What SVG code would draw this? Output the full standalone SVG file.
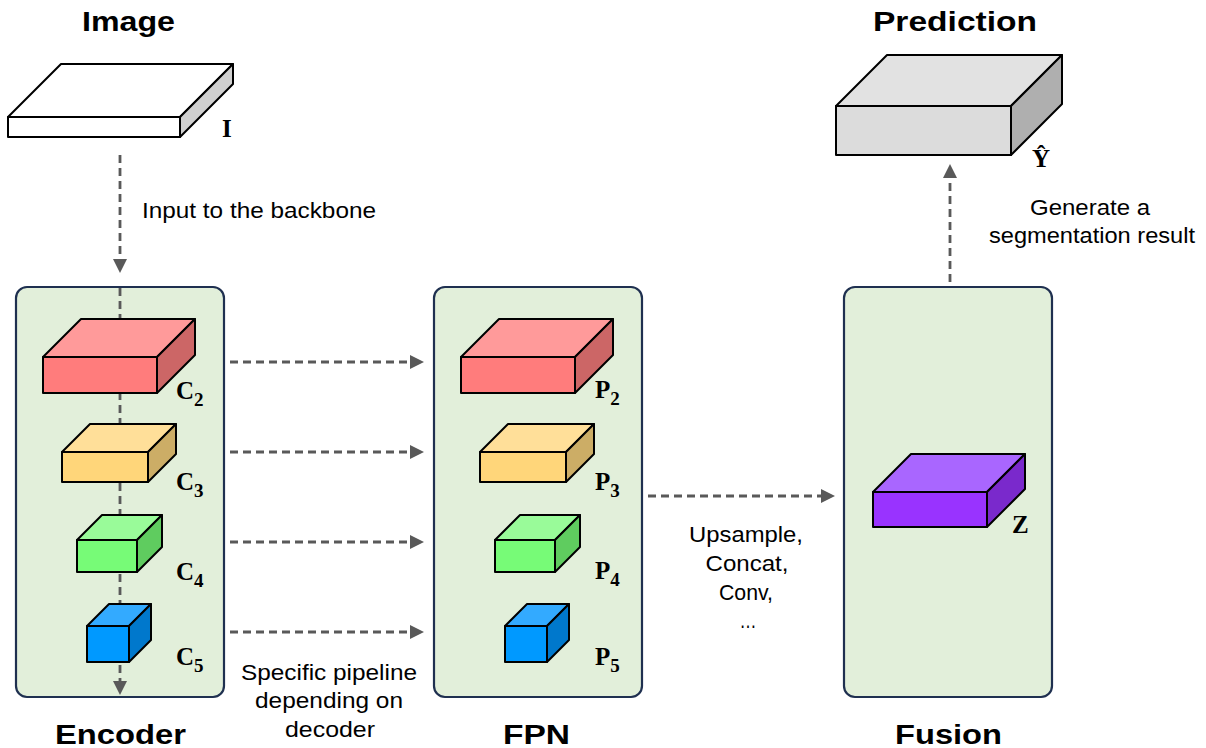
<svg xmlns="http://www.w3.org/2000/svg" width="1206" height="748" viewBox="0 0 1206 748">
  <defs>
    <marker id="head" viewBox="0 -7 14 14" markerWidth="14" markerHeight="14" refX="0" refY="0" orient="auto" markerUnits="userSpaceOnUse">
      <path d="M0,-7 L14,0 L0,7 Z" fill="#595959"/>
    </marker>
    <style>
      .panel { fill: #e2efda; stroke: #1f3050; stroke-width: 2.2; }
      .edge { stroke: #000; stroke-width: 2; stroke-linejoin: round; }
      .flow { fill: none; stroke: #595959; stroke-width: 2.8; stroke-dasharray: 8 5; }
      .title { font-family: "Liberation Sans", Arial, sans-serif; font-weight: bold; font-size: 27px; fill: #000; }
      .note { font-family: "Liberation Sans", Arial, sans-serif; font-size: 22px; fill: #000; }
      .mid { text-anchor: middle; }
      .sym { font-family: "Liberation Serif", "Times New Roman", serif; font-weight: bold; font-size: 25px; fill: #000; }
      .sub { font-size: 19px; }
      .red .f { fill: #ff7c7c; } .red .t { fill: #ff9a9a; } .red .s { fill: #cc6666; }
      .yel .f { fill: #ffd67a; } .yel .t { fill: #ffdf99; } .yel .s { fill: #ccad66; }
      .grn .f { fill: #77fb77; } .grn .t { fill: #99fb99; } .grn .s { fill: #5fcc5f; }
      .blu .f { fill: #0099ff; } .blu .t { fill: #33aaff; } .blu .s { fill: #0078cc; }
      .pur .f { fill: #9933ff; } .pur .t { fill: #a966ff; } .pur .s { fill: #7a29cc; }
      .gry .f { fill: #dcdcdc; } .gry .t { fill: #e2e2e2; } .gry .s { fill: #afafaf; }
      .wht .f { fill: #ffffff; } .wht .t { fill: #ffffff; } .wht .s { fill: #d0d0d0; }
    </style>
  </defs>

  <rect width="1206" height="748" fill="#ffffff"/>

  <!-- stage panels -->
  <g id="encoder-panel"><rect class="panel" x="16" y="287" width="208" height="410" rx="11"/></g>
  <g id="fpn-panel"><rect class="panel" x="434" y="287" width="208" height="410" rx="11"/></g>
  <g id="fusion-panel"><rect class="panel" x="844" y="287" width="208" height="410" rx="11"/></g>

  <!-- connectors -->
  <g id="connectors">
    <line class="flow" x1="120" y1="155" x2="120" y2="259" marker-end="url(#head)"/>
    <line class="flow" x1="120" y1="288" x2="120" y2="681" marker-end="url(#head)"/>
    <line class="flow" x1="230" y1="362" x2="410" y2="362" marker-end="url(#head)"/>
    <line class="flow" x1="230" y1="452" x2="410" y2="452" marker-end="url(#head)"/>
    <line class="flow" x1="230" y1="542" x2="410" y2="542" marker-end="url(#head)"/>
    <line class="flow" x1="230" y1="632" x2="410" y2="632" marker-end="url(#head)"/>
    <line class="flow" x1="648" y1="496" x2="821" y2="496" marker-end="url(#head)"/>
    <line class="flow" x1="950" y1="282" x2="950" y2="178" marker-end="url(#head)"/>
  </g>

  <!-- input image -->
  <g id="image" class="wht">
    <text class="title" x="82" y="31" textLength="93" lengthAdjust="spacingAndGlyphs">Image</text>
    <path class="t edge" d="M8,117 L61,64 L233,64 L180,117 Z"/>
    <path class="s edge" d="M180,117 L233,64 L233,84 L180,137 Z"/>
    <rect class="f edge" x="8" y="117" width="172" height="20"/>
    <text class="sym" x="222" y="137">I</text>
  </g>

  <!-- prediction -->
  <g id="prediction" class="gry">
    <text class="title" x="873" y="31" textLength="164" lengthAdjust="spacingAndGlyphs">Prediction</text>
    <path class="t edge" d="M836,106 L887,55 L1062,55 L1011,106 Z"/>
    <path class="s edge" d="M1011,106 L1062,55 L1062,104 L1011,155 Z"/>
    <rect class="f edge" x="836" y="106" width="175" height="49"/>
    <text class="sym" x="1032" y="167">Ŷ</text>
  </g>

  <!-- encoder features -->
  <g id="c2" class="red">
    <path class="t edge" d="M43,357 L81,319 L195,319 L157,357 Z"/>
    <path class="s edge" d="M157,357 L195,319 L195,355 L157,393 Z"/>
    <rect class="f edge" x="43" y="357" width="114" height="36"/>
    <text class="sym" x="176" y="399">C<tspan class="sub" dy="7">2</tspan></text>
  </g>
  <g id="c3" class="yel">
    <path class="t edge" d="M62,452 L90,424 L176,424 L148,452 Z"/>
    <path class="s edge" d="M148,452 L176,424 L176,454 L148,482 Z"/>
    <rect class="f edge" x="62" y="452" width="86" height="30"/>
    <text class="sym" x="176" y="490">C<tspan class="sub" dy="7">3</tspan></text>
  </g>
  <g id="c4" class="grn">
    <path class="t edge" d="M77,540 L102,515 L162,515 L137,540 Z"/>
    <path class="s edge" d="M137,540 L162,515 L162,547 L137,572 Z"/>
    <rect class="f edge" x="77" y="540" width="60" height="32"/>
    <text class="sym" x="176" y="580">C<tspan class="sub" dy="7">4</tspan></text>
  </g>
  <g id="c5" class="blu">
    <path class="t edge" d="M87,626 L109,604 L151,604 L129,626 Z"/>
    <path class="s edge" d="M129,626 L151,604 L151,640 L129,662 Z"/>
    <rect class="f edge" x="87" y="626" width="42" height="36"/>
    <text class="sym" x="176" y="665">C<tspan class="sub" dy="7">5</tspan></text>
  </g>

  <!-- pyramid features -->
  <g id="p2" class="red">
    <path class="t edge" d="M461,357 L499,319 L613,319 L575,357 Z"/>
    <path class="s edge" d="M575,357 L613,319 L613,355 L575,393 Z"/>
    <rect class="f edge" x="461" y="357" width="114" height="36"/>
    <text class="sym" x="595" y="398">P<tspan class="sub" dy="7">2</tspan></text>
  </g>
  <g id="p3" class="yel">
    <path class="t edge" d="M480,452 L508,424 L594,424 L566,452 Z"/>
    <path class="s edge" d="M566,452 L594,424 L594,454 L566,482 Z"/>
    <rect class="f edge" x="480" y="452" width="86" height="30"/>
    <text class="sym" x="595" y="490">P<tspan class="sub" dy="7">3</tspan></text>
  </g>
  <g id="p4" class="grn">
    <path class="t edge" d="M495,540 L520,515 L580,515 L555,540 Z"/>
    <path class="s edge" d="M555,540 L580,515 L580,547 L555,572 Z"/>
    <rect class="f edge" x="495" y="540" width="60" height="32"/>
    <text class="sym" x="595" y="579">P<tspan class="sub" dy="7">4</tspan></text>
  </g>
  <g id="p5" class="blu">
    <path class="t edge" d="M505,626 L527,604 L569,604 L547,626 Z"/>
    <path class="s edge" d="M547,626 L569,604 L569,640 L547,662 Z"/>
    <rect class="f edge" x="505" y="626" width="42" height="36"/>
    <text class="sym" x="595" y="665">P<tspan class="sub" dy="7">5</tspan></text>
  </g>

  <!-- fused feature -->
  <g id="z" class="pur">
    <path class="t edge" d="M873,492 L911,454 L1025,454 L987,492 Z"/>
    <path class="s edge" d="M987,492 L1025,454 L1025,489 L987,527 Z"/>
    <rect class="f edge" x="873" y="492" width="114" height="35"/>
    <text class="sym" x="1012" y="533">Z</text>
  </g>

  <!-- stage titles -->
  <g id="titles">
    <text class="title" x="55" y="744" textLength="131" lengthAdjust="spacingAndGlyphs">Encoder</text>
    <text class="title" x="503" y="744" textLength="67" lengthAdjust="spacingAndGlyphs">FPN</text>
    <text class="title" x="895" y="744" textLength="107" lengthAdjust="spacingAndGlyphs">Fusion</text>
  </g>

  <!-- annotations -->
  <g id="notes">
    <text class="note" x="142" y="218" textLength="234" lengthAdjust="spacingAndGlyphs">Input to the backbone</text>
    <text class="note mid" x="1090" y="215" textLength="120" lengthAdjust="spacingAndGlyphs">Generate a</text>
    <text class="note mid" x="1092" y="243" textLength="206" lengthAdjust="spacingAndGlyphs">segmentation result</text>
    <text class="note mid" x="329" y="680" textLength="176" lengthAdjust="spacingAndGlyphs">Specific pipeline</text>
    <text class="note mid" x="329" y="708" textLength="148" lengthAdjust="spacingAndGlyphs">depending on</text>
    <text class="note mid" x="330" y="737" textLength="90" lengthAdjust="spacingAndGlyphs">decoder</text>
    <text class="note mid" x="746" y="542" textLength="114" lengthAdjust="spacingAndGlyphs">Upsample,</text>
    <text class="note mid" x="747" y="571" textLength="83" lengthAdjust="spacingAndGlyphs">Concat,</text>
    <text class="note mid" x="746" y="600" textLength="54" lengthAdjust="spacingAndGlyphs">Conv,</text>
    <text class="note mid" x="748" y="628" textLength="17" lengthAdjust="spacingAndGlyphs">…</text>
  </g>
</svg>
